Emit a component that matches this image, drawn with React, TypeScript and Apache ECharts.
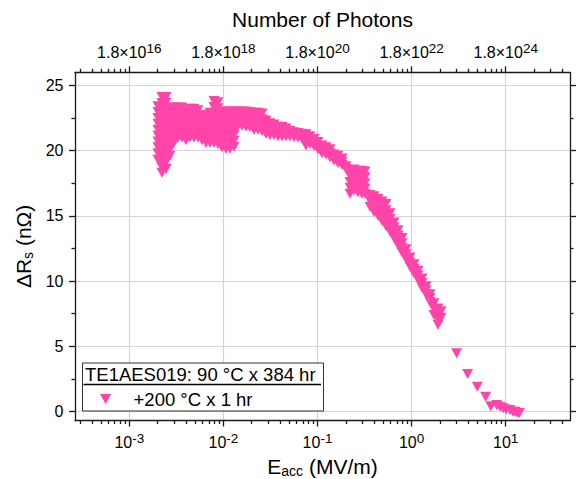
import React, { useEffect, useRef } from 'react';
import * as echarts from 'echarts';

const FONT = '"Liberation Sans", Arial, Helvetica, sans-serif';
const PINK = '#ff45aa';
const INK = '#1a1a1a';
const GRID = '#d4d4d4';
const TRI = 'path://M0,0L10,0L5,9Z';
const SERIES_NAME = '+200 °C x 1 hr';
const LEGEND_TITLE = 'TE1AES019: 90 °C x 384 hr';

// E_acc (MV/m) of each measured column and the ΔRs (nΩ) values read at that column
const eaccColumns = [
  0.002018, 0.002226, 0.002455, 0.002707, 0.002985, 0.003292, 0.003631, 0.004005,
  0.004417, 0.00487, 0.005371, 0.005924, 0.006533, 0.007205, 0.007946, 0.008763,
  0.009663, 0.01066, 0.01175, 0.01296, 0.01429, 0.01576, 0.01739, 0.01917,
  0.02114, 0.02332, 0.02572, 0.02836, 0.03128, 0.03449, 0.03804, 0.04195,
  0.04626, 0.05102, 0.05627, 0.06205, 0.06843, 0.07547, 0.08323, 0.0918,
  0.1012, 0.1116, 0.1231, 0.1358, 0.1497, 0.1651, 0.1821, 0.2009,
  0.2215, 0.2443, 0.2694, 0.2971, 0.3197, 0.3614, 0.3986, 0.4395,
  0.4847, 0.5346, 0.5896, 0.6502, 0.7171, 0.7908, 0.872, 0.9616,
  1.06, 1.17, 1.29, 1.422, 1.569, 1.73, 1.908, 2.053,
];
const dRsColumns = [
  [23.4, 22.95, 22.5, 22.05, 21.6, 21.15, 20.7, 20.25, 19.8, 19.3],
  [24.1, 23.65, 23.2, 22.75, 22.3, 21.85, 21.4, 20.95, 20.5, 20.05, 19.6, 19.15, 18.7, 18.3],
  [24.1, 23.65, 23.2, 22.75, 22.3, 21.85, 21.4, 20.95, 20.5, 20.05, 19.6, 19.1, 18.6],
  [23.3, 22.85, 22.4, 21.95, 21.5, 21.05, 20.6, 20.1, 19.6],
  [23.3, 22.85, 22.4, 21.95, 21.5, 21.05, 20.6],
  [23.3, 22.85, 22.4, 21.9, 21.45, 21.0],
  [23.3, 22.85, 22.4, 21.9, 21.45, 21.0],
  [23.0, 22.55, 22.1, 21.65, 21.2, 20.8],
  [23.2, 22.75, 22.3, 21.85, 21.4, 21.0],
  [23.2, 22.75, 22.3, 21.85, 21.4, 21.0],
  [23.1, 22.65, 22.2, 21.75, 21.3, 21.0],
  [22.7, 22.25, 21.8, 21.3, 20.8],
  [22.7, 22.25, 21.8, 21.35, 20.95, 20.6],
  [22.9, 22.45, 22.0, 21.55, 21.1, 20.6],
  [23.8, 23.35, 22.9, 22.45, 22.0, 21.55, 21.1, 20.6],
  [23.7, 23.25, 22.8, 22.35, 21.9, 21.45, 21.0, 20.5],
  [23.0, 22.55, 22.1, 21.65, 21.2, 20.7, 20.25],
  [23.0, 22.55, 22.1, 21.65, 21.2, 20.7, 20.15],
  [23.0, 22.55, 22.1, 21.65, 21.2, 20.7, 20.15],
  [23.0, 22.55, 22.1, 21.65, 21.2, 20.75, 20.3],
  [23.0, 22.55, 22.2, 21.9],
  [23.0, 22.55, 22.2, 21.9],
  [23.0, 22.55, 22.2, 21.85],
  [22.95, 22.5, 22.1, 21.8],
  [22.9, 22.45, 22.0, 21.6],
  [22.9, 22.45, 22.0, 21.6],
  [22.85, 22.4, 21.95, 21.5],
  [22.3, 21.9, 21.6, 21.3],
  [22.1, 21.75, 21.45, 21.2],
  [22.0, 21.6, 21.2],
  [21.85, 21.45, 21.1],
  [21.8, 21.45, 21.1],
  [21.7, 21.4, 21.1],
  [21.5, 21.1],
  [21.4, 21.05],
  [21.35, 21.0],
  [21.3, 20.9],
  [21.25, 20.8, 20.4],
  [21.1, 20.8, 20.5],
  [20.9, 20.6, 20.35],
  [20.65, 20.35, 20.1],
  [20.4, 20.1, 19.8],
  [20.25, 19.95, 19.7],
  [20.1, 19.8, 19.5],
  [19.7, 19.45, 19.25],
  [19.6, 19.3, 19.05],
  [19.4, 19.15, 18.9],
  [18.8, 18.6],
  [18.5, 18.05, 17.6, 17.15, 16.7],
  [18.55, 18.1, 17.65, 17.2, 16.95],
  [18.45, 18.0, 17.55, 17.1, 16.8],
  [18.45, 18.0, 17.55, 17.1, 16.7],
  [18.4, 17.95, 17.5, 17.1, 16.7],
  [16.6, 16.15, 15.7],
  [16.5, 16.05, 15.65, 15.3],
  [16.3, 15.85, 15.4, 15.0],
  [16.1, 15.6, 15.1, 14.6],
  [15.9, 15.45, 15.0, 14.6, 14.2],
  [15.2, 14.75, 14.25, 13.8],
  [14.5, 14.1, 13.7, 13.3],
  [13.9, 13.5, 13.1, 12.75],
  [13.3, 12.9, 12.55, 12.2],
  [12.45, 12.05, 11.7],
  [11.8, 11.45, 11.1],
  [11.3, 10.95, 10.6],
  [10.8, 10.45, 10.1],
  [10.2, 9.85, 9.5],
  [9.6, 9.3, 9.0],
  [9.0, 8.7, 8.4],
  [8.3, 7.85, 7.4],
  [7.9, 7.45, 7.05, 6.65],
  [7.7, 7.2],
];
// sparse high-field points
const eaccTail = [3.01, 3.94, 4.99, 6.12, 6.93, 8.02, 8.7, 9.4, 10.07, 11.1, 11.9, 12.6, 13.3, 13.97];
const dRsTail = [4.48, 2.88, 1.91, 1.14, 0.42, 0.5, 0.37, 0.25, 0.17, 0.12, 0.0, 0.0, -0.1, -0.1];

// axes
const X_MIN = 2.65e-4;
const X_MAX = 48.2;
const Y_MIN = -0.68;
const Y_MAX = 26.0;
const xMajorTicks = [0.001, 0.01, 0.1, 1, 10];
const xMinorTicks = [
  0.0003, 0.0004, 0.0005, 0.0006, 0.0007, 0.0008, 0.0009,
  0.002, 0.003, 0.004, 0.005, 0.006, 0.007, 0.008, 0.009,
  0.02, 0.03, 0.04, 0.05, 0.06, 0.07, 0.08, 0.09,
  0.2, 0.3, 0.4, 0.5, 0.6, 0.7, 0.8, 0.9,
  2, 3, 4, 5, 6, 7, 8, 9,
  20, 30, 40,
];
const yMajorTicks = [0, 5, 10, 15, 20, 25];
const yMinorTicks = [2.5, 7.5, 12.5, 17.5, 22.5];
const PHOTON_MANTISSA = '1.8';

const tickRich = {
  b: { fontSize: 16, fontFamily: FONT, color: '#000', lineHeight: 18, padding: [3, 0, 0, 0], verticalAlign: 'top' },
  s: { fontSize: 13.5, fontFamily: FONT, color: '#000', lineHeight: 13, verticalAlign: 'top' },
};
const nameRich = {
  a: { fontSize: 21, fontFamily: FONT, color: '#000', lineHeight: 22, verticalAlign: 'top' },
  s: { fontSize: 14, fontFamily: FONT, color: '#000', lineHeight: 12, padding: [14, 0, 0, 0], verticalAlign: 'bottom' },
};

const lineStyle = { color: INK, width: 1.3 };

export default function App() {
  const ref = useRef<HTMLDivElement>(null);
  useEffect(() => {
    if (!ref.current) return;
    const chart = echarts.init(ref.current, undefined, { renderer: 'svg' });

    const points: [number, number][] = [];
    eaccColumns.forEach((e, i) => dRsColumns[i].forEach((r) => points.push([e, r])));
    eaccTail.forEach((e, i) => points.push([e, dRsTail[i]]));

    const logBase = { type: 'log', logBase: 10, min: X_MIN, max: X_MAX, gridIndex: 0 };
    const exp10 = (v: number) => Math.round(Math.log10(v));

    const option: any = {
      animation: false,
      backgroundColor: '#fff',
      grid: { left: 75, right: 6, top: 72.3, bottom: 58.5, containLabel: false, outerBoundsMode: 'none' },
      xAxis: [
        {
          ...logBase,
          position: 'bottom',
          axisLine: { show: true, onZero: false, lineStyle },
          axisTick: { show: true, customValues: xMajorTicks, length: 6, lineStyle },
          minorTick: { show: false },
          axisLabel: {
            customValues: xMajorTicks,
            margin: 11,
            formatter: (v: number) => `{b|10}{s|${exp10(v)}}`,
            rich: tickRich,
          },
          splitLine: { show: true, lineStyle: { color: GRID, width: 1.2 } },
          name: '{a|E}{s|acc}{a| (MV/m)}',
          nameLocation: 'middle',
          nameGap: 35,
          nameMoveOverlap: false,
          nameTextStyle: { rich: nameRich },
        },
        {
          ...logBase,
          position: 'bottom',
          axisLine: { show: false, onZero: false },
          axisTick: { show: true, customValues: xMinorTicks, length: 3.5, lineStyle },
          axisLabel: { show: false },
          splitLine: { show: false },
        },
        {
          ...logBase,
          position: 'top',
          axisLine: { show: true, onZero: false, lineStyle },
          axisTick: { show: true, customValues: xMajorTicks, length: 6, lineStyle },
          axisLabel: {
            customValues: xMajorTicks,
            margin: 12.5,
            formatter: (v: number) => `{b|${PHOTON_MANTISSA}×10}{s|${2 * exp10(v) + 22}}`,
            rich: tickRich,
          },
          splitLine: { show: false },
          name: 'Number of Photons',
          nameLocation: 'middle',
          nameGap: 41,
          nameMoveOverlap: false,
          nameTextStyle: { fontSize: 21, fontFamily: FONT, color: '#000', lineHeight: 24 },
        },
        {
          ...logBase,
          position: 'top',
          axisLine: { show: false, onZero: false },
          axisTick: { show: true, customValues: xMinorTicks, length: 3.5, lineStyle },
          axisLabel: { show: false },
          splitLine: { show: false },
        },
      ],
      yAxis: [
        {
          type: 'value',
          min: Y_MIN,
          max: Y_MAX,
          position: 'left',
          axisLine: { show: true, onZero: false, lineStyle },
          axisTick: { show: true, customValues: yMajorTicks, length: 6, lineStyle },
          axisLabel: { customValues: yMajorTicks, margin: 11.5, fontSize: 16, fontFamily: FONT, color: '#000' },
          splitLine: { show: true, lineStyle: { color: GRID, width: 1.2 } },
          name: '{a|ΔR}{s|s}{a| (nΩ)}',
          nameLocation: 'middle',
          nameGap: 40,
          nameMoveOverlap: false,
          nameTextStyle: { rich: nameRich },
        },
        {
          type: 'value', min: Y_MIN, max: Y_MAX, position: 'left',
          axisLine: { show: false, onZero: false },
          axisTick: { show: true, customValues: yMinorTicks, length: 3.5, lineStyle },
          axisLabel: { show: false },
          splitLine: { show: false },
        },
        {
          type: 'value', min: Y_MIN, max: Y_MAX, position: 'right',
          axisLine: { show: true, onZero: false, lineStyle },
          axisTick: { show: true, customValues: yMajorTicks, length: 6, lineStyle },
          axisLabel: { show: false },
          splitLine: { show: false },
        },
        {
          type: 'value', min: Y_MIN, max: Y_MAX, position: 'right',
          axisLine: { show: false, onZero: false },
          axisTick: { show: true, customValues: yMinorTicks, length: 3.5, lineStyle },
          axisLabel: { show: false },
          splitLine: { show: false },
        },
      ],
      legend: {
        show: true,
        left: 100,
        top: 389.5,
        padding: 0,
        orient: 'vertical',
        itemWidth: 40,
        itemHeight: 10,
        symbolKeepAspect: true,
        selectedMode: false,
        z: 10,
        data: [{ name: SERIES_NAME, icon: TRI }],
        textStyle: { fontSize: 18.5, fontFamily: FONT, color: '#000', padding: [0, 0, 0, 3] },
      },
      graphic: {
        elements: [
          {
            type: 'rect',
            z: 5,
            shape: { x: 82.5, y: 363, width: 241, height: 48 },
            style: { fill: '#fff', stroke: '#333', lineWidth: 1 },
          },
          {
            type: 'text',
            z: 6,
            x: 85,
            y: 374.5,
            style: { text: LEGEND_TITLE, fontSize: 18.5, fontFamily: FONT, fill: '#000', align: 'left', verticalAlign: 'middle' },
          },
          {
            type: 'line',
            z: 6,
            shape: { x1: 83.5, y1: 384.5, x2: 321, y2: 384.5 },
            style: { stroke: '#000', lineWidth: 1.7 },
          },
        ],
      },
      series: [
        {
          type: 'scatter',
          name: SERIES_NAME,
          xAxisIndex: 0,
          yAxisIndex: 0,
          data: points,
          symbol: TRI,
          symbolSize: [11, 10],
          itemStyle: { color: PINK, opacity: 1 },
          silent: true,
          z: 2,
        },
      ],
    };
    chart.setOption(option);
    return () => chart.dispose();
  }, []);

  return (
    <div
      ref={ref}
      style={{ position: 'absolute', left: 0, top: 0, width: 576, height: 479, background: '#fff' }}
    />
  );
}
